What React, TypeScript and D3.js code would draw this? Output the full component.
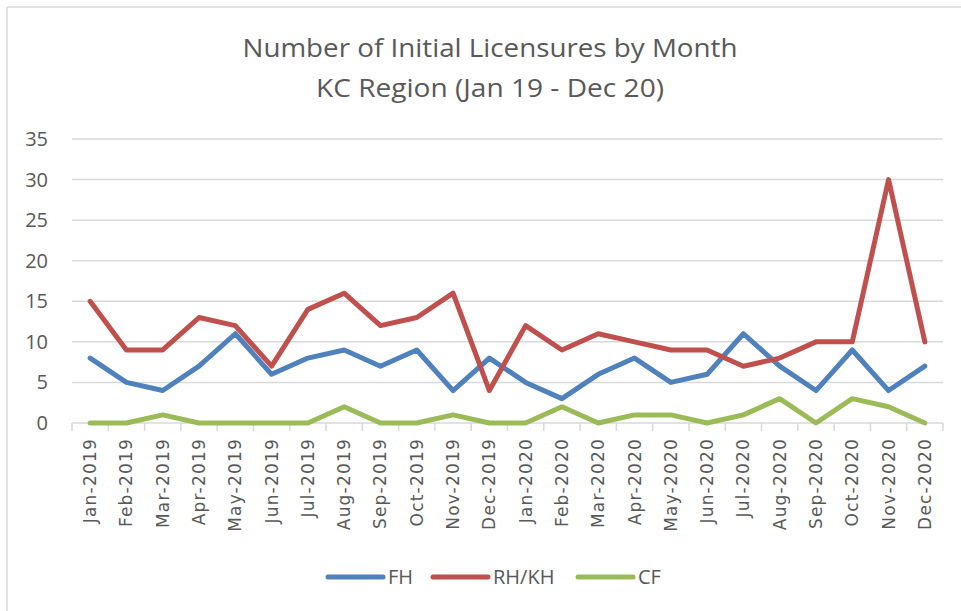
import React, { useEffect, useRef } from "react";
import * as d3 from "d3";

const months = [
  "Jan-2019", "Feb-2019", "Mar-2019", "Apr-2019", "May-2019", "Jun-2019",
  "Jul-2019", "Aug-2019", "Sep-2019", "Oct-2019", "Nov-2019", "Dec-2019",
  "Jan-2020", "Feb-2020", "Mar-2020", "Apr-2020", "May-2020", "Jun-2020",
  "Jul-2020", "Aug-2020", "Sep-2020", "Oct-2020", "Nov-2020", "Dec-2020",
];
const fh = [8, 5, 4, 7, 11, 6, 8, 9, 7, 9, 4, 8, 5, 3, 6, 8, 5, 6, 11, 7, 4, 9, 4, 7];
const rhkh = [15, 9, 9, 13, 12, 7, 14, 16, 12, 13, 16, 4, 12, 9, 11, 10, 9, 9, 7, 8, 10, 10, 30, 10];
const cf = [0, 0, 1, 0, 0, 0, 0, 2, 0, 0, 1, 0, 0, 2, 0, 1, 1, 0, 1, 3, 0, 3, 2, 0];
const yTicks = [0, 5, 10, 15, 20, 25, 30, 35];
const titleLines = ["Number of Initial Licensures by Month", "KC Region (Jan 19 - Dec 20)"];

const series = [
  { name: "FH", values: fh, color: "#4f81bd" },
  { name: "RH/KH", values: rhkh, color: "#c0504d" },
  { name: "CF", values: cf, color: "#9bbb59" },
];

const W = 961;
const H = 611;

export default function App() {
  const ref = useRef<SVGSVGElement>(null);

  useEffect(() => {
    const svg = d3.select(ref.current);
    svg.selectAll("*").remove();

    const left = 72, right = 943, top = 139, bottom = 423;
    const x = d3.scaleBand<string>().domain(months).range([left, right]);
    const y = d3.scaleLinear().domain([0, 35]).range([bottom, top]);
    const textColor = "#595959";
    const font = "'Open Sans', sans-serif";

    // chart frame (only top and left edges visible)
    svg.append("line").attr("x1", 7).attr("x2", W).attr("y1", 7).attr("y2", 7)
      .attr("stroke", "#d9d9d9").attr("stroke-width", 1.5);
    svg.append("line").attr("x1", 7).attr("x2", 7).attr("y1", 7).attr("y2", H)
      .attr("stroke", "#d9d9d9").attr("stroke-width", 1.5);

    // title
    svg.selectAll("text.title")
      .data(titleLines)
      .enter()
      .append("text")
      .attr("class", "title")
      .attr("x", 490)
      .attr("y", (d, i) => 57 + i * 40)
      .attr("text-anchor", "middle")
      .attr("font-family", font)
      .attr("font-size", 26)
      .attr("fill", textColor)
      .attr("textLength", (d, i) => (i === 0 ? 495 : 348))
      .attr("lengthAdjust", "spacingAndGlyphs")
      .text(d => d);

    // gridlines
    svg.append("g")
      .selectAll("line")
      .data(yTicks.filter(t => t > 0))
      .enter()
      .append("line")
      .attr("x1", left).attr("x2", right)
      .attr("y1", d => y(d)).attr("y2", d => y(d))
      .attr("stroke", "#d9d9d9").attr("stroke-width", 1.5);

    // y labels
    svg.append("g")
      .selectAll("text")
      .data(yTicks)
      .enter()
      .append("text")
      .attr("x", 48)
      .attr("y", d => y(d) + 7)
      .attr("text-anchor", "end")
      .attr("font-family", font)
      .attr("font-size", 20)
      .attr("fill", textColor)
      .text(d => d);

    // x axis line + ticks between categories
    svg.append("line").attr("x1", left).attr("x2", right)
      .attr("y1", bottom).attr("y2", bottom)
      .attr("stroke", "#d9d9d9").attr("stroke-width", 1.5);
    const edges = months.map(m => x(m) as number).concat([right]);
    svg.append("g")
      .selectAll("line")
      .data(edges)
      .enter()
      .append("line")
      .attr("x1", d => d).attr("x2", d => d)
      .attr("y1", bottom).attr("y2", bottom + 8)
      .attr("stroke", "#d9d9d9").attr("stroke-width", 1.5);

    // x labels rotated
    svg.append("g")
      .selectAll("text")
      .data(months)
      .enter()
      .append("text")
      .attr("transform", d => `translate(${(x(d) as number) + x.bandwidth() / 2 + 6},438) rotate(-90)`)
      .attr("text-anchor", "end")
      .attr("font-family", "'DejaVu Sans', sans-serif")
      .attr("font-size", 17)
      .attr("letter-spacing", 1.2)
      .attr("fill", textColor)
      .text(d => d);

    // series lines
    const line = d3.line<number>()
      .x((d, i) => (x(months[i]) as number) + x.bandwidth() / 2)
      .y(d => y(d));
    svg.append("g")
      .selectAll("path")
      .data(series)
      .enter()
      .append("path")
      .attr("d", s => line(s.values))
      .attr("fill", "none")
      .attr("stroke", s => s.color)
      .attr("stroke-width", 5)
      .attr("stroke-linejoin", "round")
      .attr("stroke-linecap", "round");

    // legend
    const legendX = [328, 433, 578];
    const lg = svg.append("g")
      .selectAll("g")
      .data(series)
      .enter()
      .append("g")
      .attr("transform", (d, i) => `translate(${legendX[i]},577)`);
    lg.append("line")
      .attr("x1", 0).attr("x2", 55).attr("y1", 0).attr("y2", 0)
      .attr("stroke", d => d.color).attr("stroke-width", 5)
      .attr("stroke-linecap", "round");
    lg.append("text")
      .attr("x", 60).attr("y", 7)
      .attr("font-family", font)
      .attr("font-size", 20)
      .attr("fill", textColor)
      .text(d => d.name);
  }, []);

  return (
    <svg
      ref={ref}
      width={W}
      height={H}
      style={{ position: "absolute", left: 0, top: 0, background: "#fff" }}
    />
  );
}
